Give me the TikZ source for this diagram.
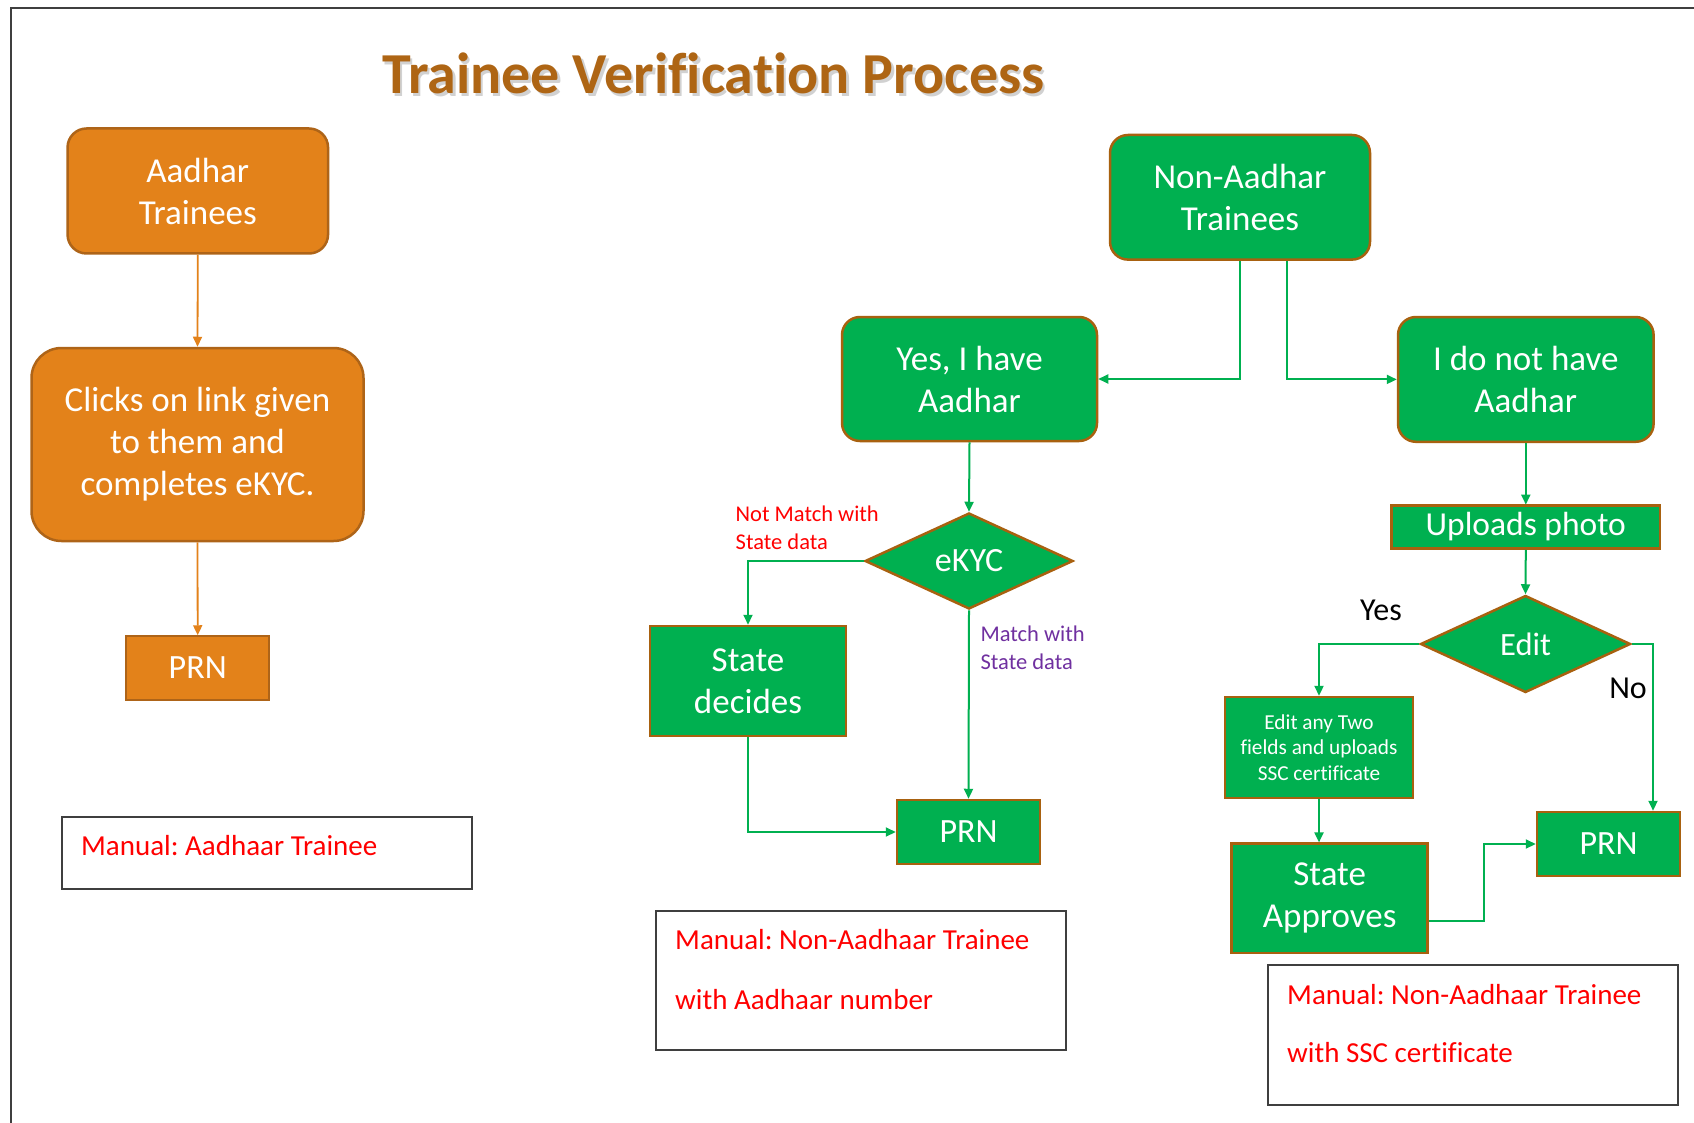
\documentclass[tikz,border=0pt]{standalone}
\usepackage{fontspec}
\setmainfont{Carlito}[Ligatures=NoCommon]
\usetikzlibrary{arrows.meta,shapes.geometric,calc}
\definecolor{ofill}{HTML}{E3821A}
\definecolor{oline}{HTML}{AE6418}
\definecolor{gfill}{HTML}{00B050}
\definecolor{gline}{HTML}{A8610F}
\definecolor{tcol}{HTML}{AE6514}
\definecolor{mred}{HTML}{FF0000}
\definecolor{mpurple}{HTML}{7030A0}
\definecolor{frame}{HTML}{3F3F3F}
\frenchspacing
\begin{document}
\begin{tikzpicture}[x=1pt,y=-1pt,
  obox/.style={draw=oline, fill=ofill, line width=2.5pt, text=white, align=center, inner sep=0pt, font=\fontsize{35}{42}\selectfont},
  gbox/.style={draw=gline, fill=gfill, line width=2.5pt, text=white, align=center, inner sep=0pt, font=\fontsize{35}{42}\selectfont},
  gdia/.style={gbox, shape=diamond},
  oarrow/.style={draw=ofill, line width=1.8pt, -{Triangle[length=10pt,width=9pt]}},
  garrow/.style={draw=gfill, line width=2pt, -{Triangle[length=10pt,width=9pt]}},
  manbox/.style={draw=frame, line width=2pt, inner sep=0pt},
  mantext/.style={text=mred, inner sep=0pt, font=\fontsize{29}{35}\selectfont},
  smalllab/.style={inner sep=0pt, align=left, font=\fontsize{22.5}{28}\selectfont},
  yesno/.style={inner sep=0pt, text=black, font=\fontsize{32}{38}\selectfont}
]
\useasboundingbox (0,0) rectangle (1694,1123);
\fill[white] (0,0) rectangle (1694,1123);
\draw[line width=2pt, draw=frame] (11,1123) -- (11,8) -- (1694,8);

% title
\node[anchor=base, text=black, opacity=0.18, inner sep=0pt, font=\fontsize{58}{68}\selectfont\bfseries] (titleshadow) at (716,96.5) {Trainee Verification Process};
\node[anchor=base, text=tcol, inner sep=0pt, font=\fontsize{58}{68}\selectfont\bfseries] (title) at (713.5,93.6) {Trainee Verification Process};

% left column (orange)
\node[obox, rounded corners=19pt, minimum width=260.5, minimum height=125] (aad) at (197.8,191) {Aadhar\\Trainees};
\node[obox, rounded corners=30pt, minimum width=332, minimum height=193] (clicks) at (197.5,444.5) {\rule{0pt}{2pt}Clicks on link given\\to them and\\completes eKYC.};
\node[obox, line width=2pt, font=\fontsize{34}{40}\selectfont, minimum width=142.6, minimum height=63.5] (prnA) at (197.7,668) {PRN};
\draw[oarrow] (aad.south) -- (clicks.north);
\draw[oarrow] (clicks.south) -- (prnA.north);

\node[manbox, anchor=north west, minimum width=410, minimum height=72.4] (manA) at (61,815.6) {};
\node[mantext, anchor=base west] (manAt) at (81,855) {Manual: Aadhaar Trainee};

% green part
\node[gbox, rounded corners=18pt, minimum width=260, minimum height=124.6] (nonA) at (1240,197.3) {Non-Aadhar\\Trainees};
\node[gbox, rounded corners=18pt, minimum width=255, minimum height=124] (yesA) at (969.5,379) {Yes, I have\\Aadhar};
\node[gbox, rounded corners=18pt, minimum width=255.6, minimum height=124.8] (noA) at (1525.8,379.4) {I do not have\\Aadhar};
\draw[garrow] (nonA.south) |- (yesA.east);
\draw[garrow] ([xshift=47pt]nonA.south) |- (noA.west);

\node[gdia, font=\fontsize{34}{40}\selectfont, minimum width=208, minimum height=96] (ekyc) at (969,561) {eKYC};
\draw[garrow] (yesA.south) -- (ekyc.north);

\node[gbox, minimum width=196, minimum height=110] (stdec) at (748,681) {State\\decides};
\node[gbox, font=\fontsize{34}{40}\selectfont, minimum width=143, minimum height=64] (prnB) at (968.5,832) {PRN};
\draw[garrow] (ekyc.west) -| (stdec.north);
\draw[garrow] (ekyc.south) -- (prnB.north);
\draw[garrow] (stdec.south) |- (prnB.west);

\node[smalllab, text=mred, anchor=west] (notmatch) at (735.5,528) {Not Match with\\State data};
\node[smalllab, text=mpurple, anchor=west] (match) at (980.4,648) {Match with\\State data};

\node[manbox, anchor=north west, minimum width=409.7, minimum height=139] (manB) at (655,910) {};
\node[mantext, anchor=base west] (manBt1) at (675,949) {Manual: Non-Aadhaar Trainee};
\node[mantext, anchor=base west] (manBt2) at (675,1009.6) {with Aadhaar number};

% right branch
\node[gbox, font=\fontsize{33.5}{38}\selectfont, minimum width=268.4, minimum height=43] (upl) at (1525.8,527) {Uploads photo};
\draw[garrow] (noA.south) -- (upl.north |- 0,504.6);
\node[gdia, font=\fontsize{32.5}{38}\selectfont, minimum width=210, minimum height=97] (edit) at (1525.5,644) {Edit};
\draw[garrow] (upl.south) -- (edit.north);

\node[gbox, font=\fontsize{21.3}{25.5}\selectfont, minimum width=188, minimum height=100.7] (editany) at (1319,747.4) {Edit any Two\\fields and uploads\\SSC certificate};
\node[gbox, minimum width=196, minimum height=109.3] (stapp) at (1329.7,898.3) {State\\Approves};
\node[gbox, font=\fontsize{34}{40}\selectfont, minimum width=143, minimum height=64] (prnC) at (1608.5,844) {PRN};

\draw[garrow] (edit.west) -| (editany.north);
\draw[garrow] (edit.east) -| ([xshift=44.5pt]prnC.north);
\draw[garrow] (editany.south) -- (editany.south |- stapp.north);
\draw[garrow] ([yshift=-22.7pt]stapp.east) -- ++(55,0) |- (prnC.west);

\node[yesno] (yes) at (1381,610) {Yes};
\node[yesno] (no) at (1628,688) {No};

\node[manbox, anchor=north west, minimum width=410, minimum height=140] (manC) at (1267,964) {};
\node[mantext, anchor=base west] (manCt1) at (1287,1004.5) {Manual: Non-Aadhaar Trainee};
\node[mantext, anchor=base west] (manCt2) at (1287,1062.7) {with SSC certificate};
\end{tikzpicture}
\end{document}
